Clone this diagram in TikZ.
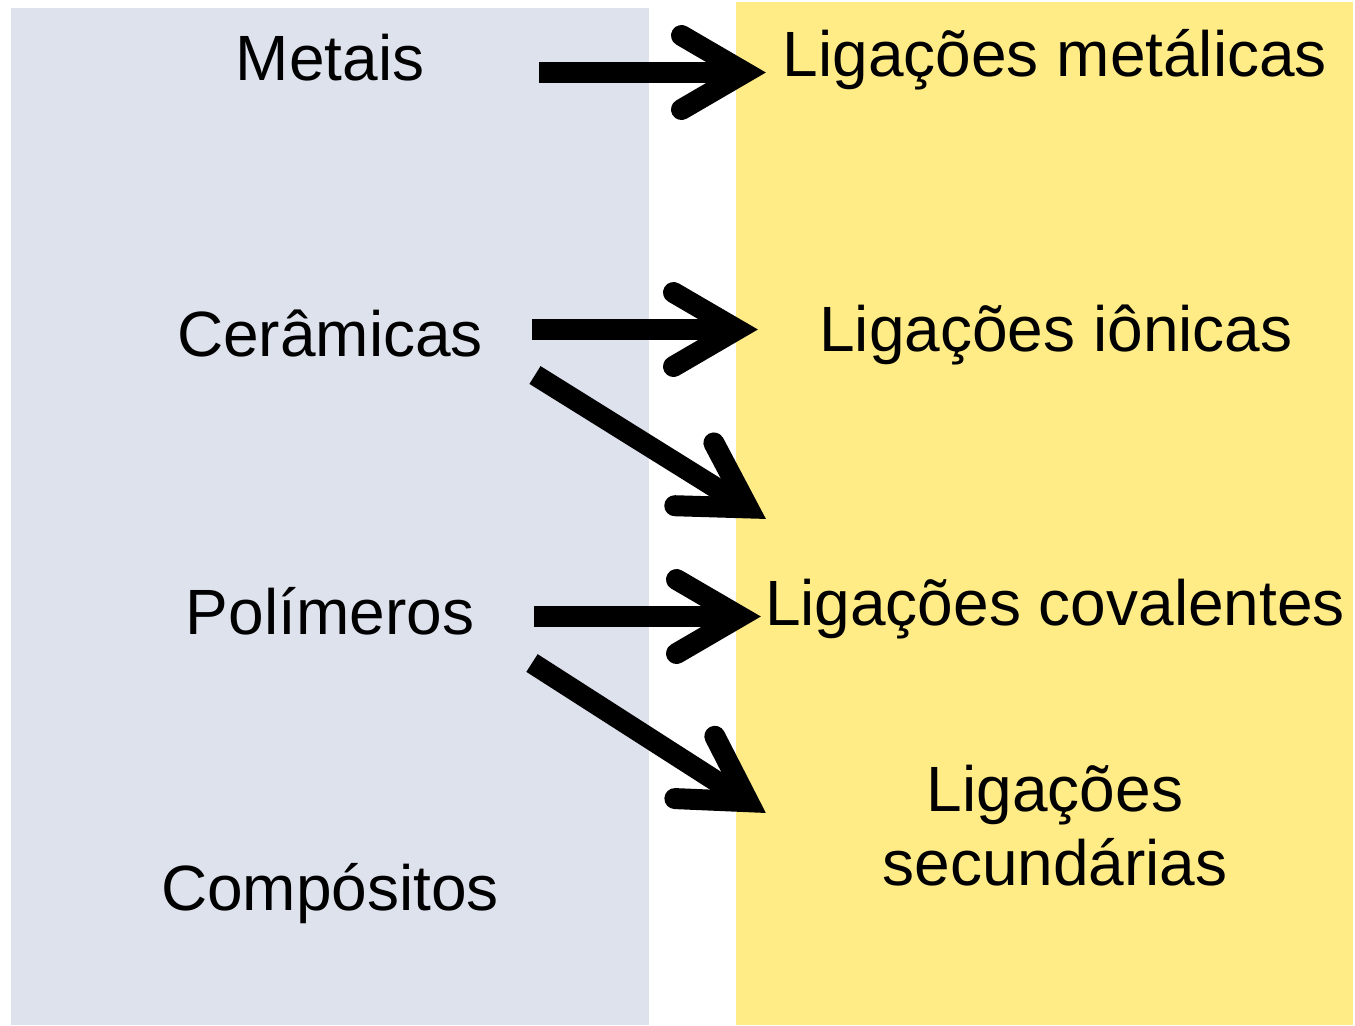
\documentclass[tikz,border=0pt]{standalone}
\usepackage{fontspec}
\setmainfont{Liberation Sans}
\usetikzlibrary{positioning, decorations.markings}

\definecolor{cinzaazul}{RGB}{222,226,237}
\definecolor{amarelo}{RGB}{255,236,134}

\begin{document}
\begin{tikzpicture}[x=0.5pt, y=-0.5pt, font=\fontsize{32}{37}\selectfont]

    \tikzstyle{rotulo} = [anchor=base, inner sep=0pt, align=center]
    \tikzstyle{seta} = [line width=10.5pt, postaction={decorate,
        decoration={markings, mark=at position 1 with {
            \draw[line width=10.5pt, line cap=round, line join=miter, miter limit=10]
                (-31.75pt,18.5pt) -- (0pt,0pt) -- (-31.75pt,-18.5pt);}}}]

    \useasboundingbox (0,0) rectangle (1355,1025);

    % Fundos
    \fill[cinzaazul] (11,8) rectangle (649,1025);
    \fill[amarelo] (736,2) rectangle (1353,1025);

    % Materiais
    \node [rotulo] (met) at (330,80) {Metais};
    \node [rotulo] (cer) at (330,356) {Cerâmicas};
    \node [rotulo] (pol) at (330,634) {Polímeros};
    \node [rotulo] (comp) at (330,910) {Compósitos};

    % Ligações
    \node [rotulo] (lmet) at (1055,76) {Ligações metálicas};
    \node [rotulo] (lion) at (1056,351) {Ligações iônicas};
    \node [rotulo] (lcov) at (1055,625) {Ligações covalentes};
    \node [rotulo] (lsec) at (1055,885) {Ligações\\secundárias};

    % Pontas das setas
    \coordinate (m1) at (539,72.5);
    \coordinate (m2) at (745,72.5);
    \coordinate (c1) at (532,329.5);
    \coordinate (c2) at (737,329.5);
    \coordinate (c3) at (535,375);
    \coordinate (c4) at (748.2,507.9);
    \coordinate (p1) at (534,616.5);
    \coordinate (p2) at (740,616.5);
    \coordinate (p3) at (532,663);
    \coordinate (p4) at (748.3,801.7);

    % Setas
    \draw[seta] (m1) -- (m2);
    \draw[seta] (c1) -- (c2);
    \draw[seta] (c3) -- (c4);
    \draw[seta] (p1) -- (p2);
    \draw[seta] (p3) -- (p4);

\end{tikzpicture}
\end{document}
